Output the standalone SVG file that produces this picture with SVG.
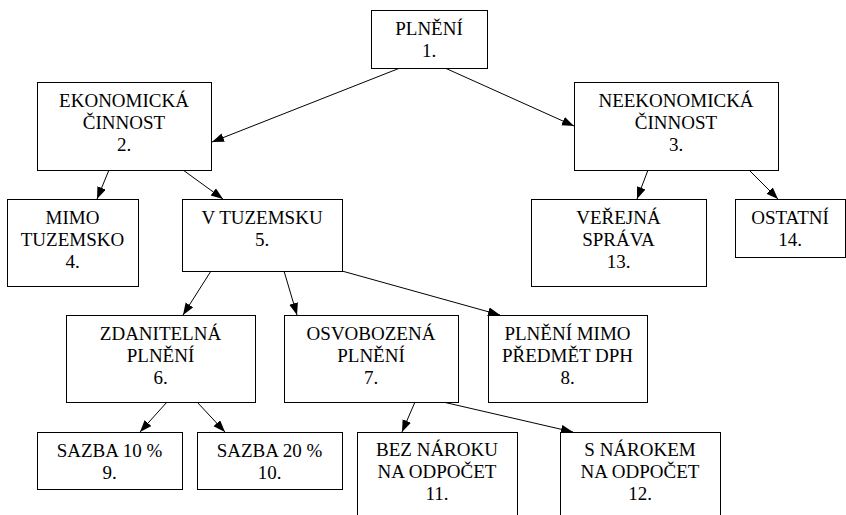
<svg xmlns="http://www.w3.org/2000/svg" width="846" height="515" viewBox="0 0 846 515">
<style>
.box{fill:#fff;stroke:#000;stroke-width:1}
.t text{font-family:'Liberation Serif','DejaVu Serif',serif;font-size:19px;fill:#000;text-anchor:middle}
.edge{stroke:#000;stroke-width:1;fill:none;marker-end:url(#ah)}
</style>
<defs>
<marker id="ah" markerUnits="userSpaceOnUse" markerWidth="13" markerHeight="10" refX="12" refY="4.5" orient="auto">
<path d="M0,0 L12,4.5 L0,9 z" fill="#000"/>
</marker>
</defs>
<rect width="846" height="515" fill="#fff"/>
<g id="connectors">
<line class="edge" x1="400" y1="68" x2="212" y2="142"/>
<line class="edge" x1="445" y1="68" x2="574" y2="126"/>
<line class="edge" x1="109" y1="170" x2="97" y2="199"/>
<line class="edge" x1="183" y1="170" x2="223" y2="199"/>
<line class="edge" x1="648" y1="170" x2="637" y2="199"/>
<line class="edge" x1="749" y1="170" x2="778" y2="199"/>
<line class="edge" x1="211" y1="271" x2="183" y2="315"/>
<line class="edge" x1="284" y1="271" x2="297" y2="315"/>
<line class="edge" x1="342" y1="271" x2="500" y2="315"/>
<line class="edge" x1="167" y1="402" x2="140" y2="432"/>
<line class="edge" x1="197" y1="402" x2="225" y2="432"/>
<line class="edge" x1="415" y1="402" x2="402" y2="432"/>
<line class="edge" x1="443" y1="402" x2="573" y2="432"/>
</g>
<g class="t" font-family="Liberation Serif, DejaVu Serif, serif" font-size="19">
<g id="n1"><rect class="box" x="371.5" y="10.5" width="116" height="58"/><text x="429" y="35">PLNĚNÍ</text><text x="429" y="57">1.</text></g>
<g id="n2"><rect class="box" x="37.5" y="82.5" width="174" height="88"/><text x="124" y="107">EKONOMICKÁ</text><text x="124" y="129">ČINNOST</text><text x="124" y="151">2.</text></g>
<g id="n3"><rect class="box" x="574.5" y="82.5" width="204" height="88"/><text x="676" y="107">NEEKONOMICKÁ</text><text x="676" y="129">ČINNOST</text><text x="676" y="151">3.</text></g>
<g id="n4"><rect class="box" x="7.5" y="199.5" width="131" height="87"/><text x="72.5" y="224">MIMO</text><text x="72.5" y="246">TUZEMSKO</text><text x="72.5" y="268">4.</text></g>
<g id="n5"><rect class="box" x="182.5" y="199.5" width="160" height="72"/><text x="262" y="224">V TUZEMSKU</text><text x="262" y="246">5.</text></g>
<g id="n6"><rect class="box" x="66.5" y="315.5" width="189" height="87"/><text x="160.5" y="340">ZDANITELNÁ</text><text x="160.5" y="362">PLNĚNÍ</text><text x="160.5" y="384">6.</text></g>
<g id="n7"><rect class="box" x="284.5" y="315.5" width="174" height="87"/><text x="371" y="340">OSVOBOZENÁ</text><text x="371" y="362">PLNĚNÍ</text><text x="371" y="384">7.</text></g>
<g id="n8"><rect class="box" x="488.5" y="315.5" width="159" height="87"/><text x="567.5" y="340">PLNĚNÍ MIMO</text><text x="567.5" y="362">PŘEDMĚT DPH</text><text x="567.5" y="384">8.</text></g>
<g id="n9"><rect class="box" x="37.5" y="432.5" width="145" height="57"/><text x="109.5" y="457">SAZBA 10 %</text><text x="109.5" y="479">9.</text></g>
<g id="n10"><rect class="box" x="197.5" y="432.5" width="145" height="57"/><text x="269.5" y="457">SAZBA 20 %</text><text x="269.5" y="479">10.</text></g>
<g id="n11"><rect class="box" x="357.5" y="432.5" width="160" height="100"/><text x="437" y="456">BEZ NÁROKU</text><text x="437" y="478">NA ODPOČET</text><text x="437" y="500">11.</text></g>
<g id="n12"><rect class="box" x="560.5" y="432.5" width="160" height="100"/><text x="640" y="456">S NÁROKEM</text><text x="640" y="478">NA ODPOČET</text><text x="640" y="500">12.</text></g>
<g id="n13"><rect class="box" x="531.5" y="199.5" width="175" height="87"/><text x="618.5" y="224">VEŘEJNÁ</text><text x="618.5" y="246">SPRÁVA</text><text x="618.5" y="268">13.</text></g>
<g id="n14"><rect class="box" x="735.5" y="199.5" width="110" height="58"/><text x="790" y="224">OSTATNÍ</text><text x="790" y="246">14.</text></g>
</g>
</svg>
